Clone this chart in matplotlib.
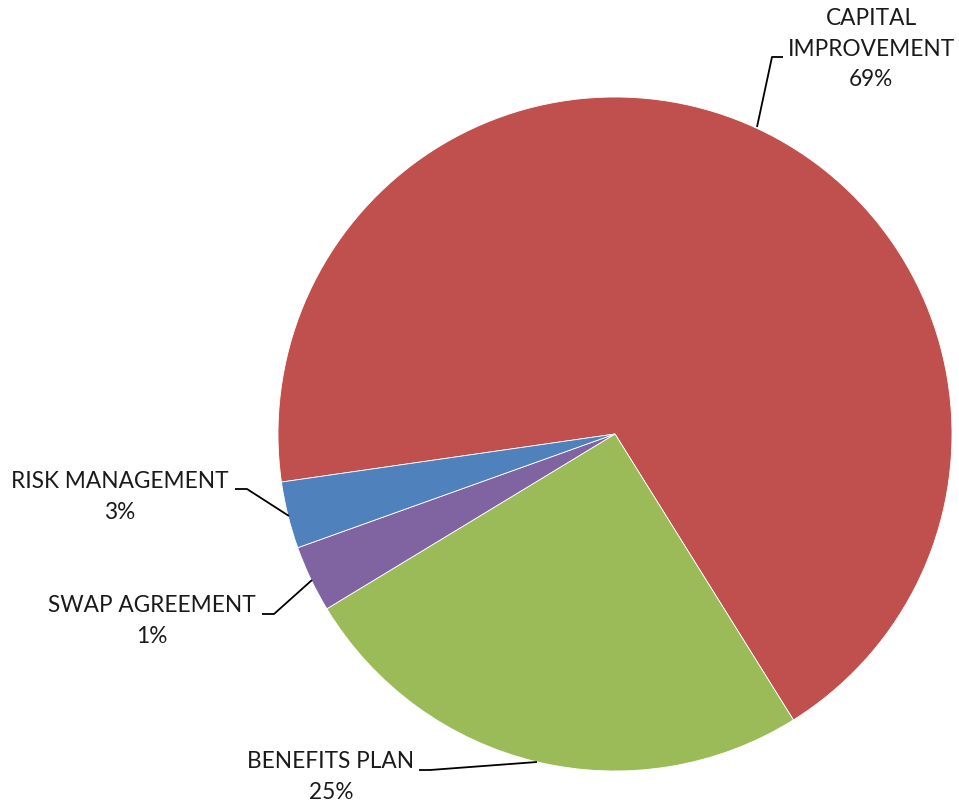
import numpy as np
import matplotlib.pyplot as plt

# slice shares as drawn and the printed labels
categories = ['CAPITAL\nIMPROVEMENT', 'BENEFITS PLAN', 'SWAP AGREEMENT', 'RISK MANAGEMENT']
shares = [68.4, 25.2, 3.2, 3.2]
pct_labels = ['69%', '25%', '1%', '3%']
colors = ['#C0504D', '#9BBB59', '#8064A2', '#4F81BD']

plt.rcParams['font.family'] = ['Lato', 'DejaVu Sans']

W, H = 959, 807
fig = plt.figure(figsize=(W / 100, H / 100), dpi=100)
ax = fig.add_axes([0, 0, 1, 1])

cx, cy, r = 615, H - 434, 337
ax.pie(shares, colors=colors, startangle=188.2, counterclock=False,
       center=(cx, cy), radius=r, frame=True,
       wedgeprops=dict(edgecolor='white', linewidth=0.6))
ax.set_xlim(0, W)
ax.set_ylim(0, H)
ax.set_aspect('equal')
ax.axis('off')

# label layout in pixel coords (top-left origin): text centre, leader polyline
layout = [
    ((871, 49), [(783, 57), (772, 57), (757, 127)]),
    ((331, 777), [(419, 770), (430, 770), (537, 762)]),
    ((152, 621), [(262, 614), (274, 614), (312, 580)]),
    ((120, 497), [(235, 489), (247, 489), (289, 516)]),
]

for name, pct, (pos, leader) in zip(categories, pct_labels, layout):
    xs = [p[0] for p in leader]
    ys = [H - p[1] for p in leader]
    ax.plot(xs, ys, color='black', lw=1.3, solid_capstyle='butt')
    ax.text(pos[0], H - pos[1], name + '\n' + pct, ha='center', va='center',
            fontsize=16.3, color='#1a1a1a', linespacing=1.55)

fig.savefig('out.png', dpi=100)
